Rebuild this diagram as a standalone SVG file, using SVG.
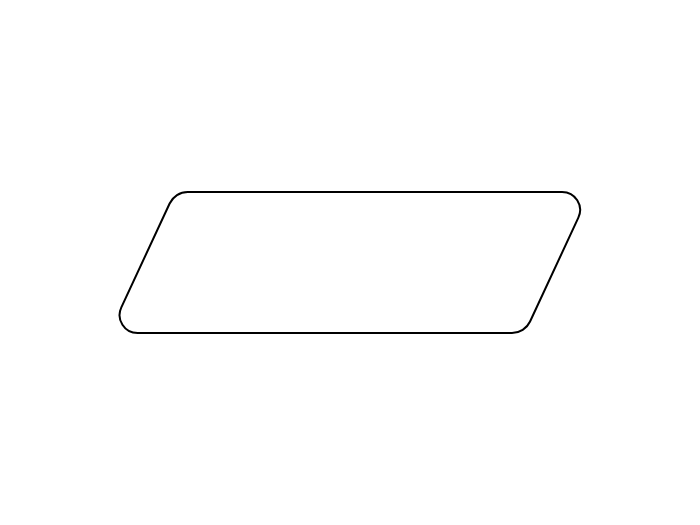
<svg xmlns="http://www.w3.org/2000/svg" width="700" height="525" viewBox="0 0 700 525">
  <style>
    .shape { fill: #ffffff; stroke: #000000; stroke-width: 2; stroke-linejoin: round; }
  </style>
  <rect width="700" height="525" fill="#ffffff"/>
  <g id="connectors"></g>
  <g id="node-parallelogram">
    <path class="shape" d="M187.7,192 H562 A18,18 0 0 1 578.36,217.67 L530.06,321.48 A20,20 0 0 1 512,333 H137.7 A18,18 0 0 1 121.34,307.33 L169.64,203.52 A20,20 0 0 1 187.7,192 Z"/>
  </g>
</svg>
